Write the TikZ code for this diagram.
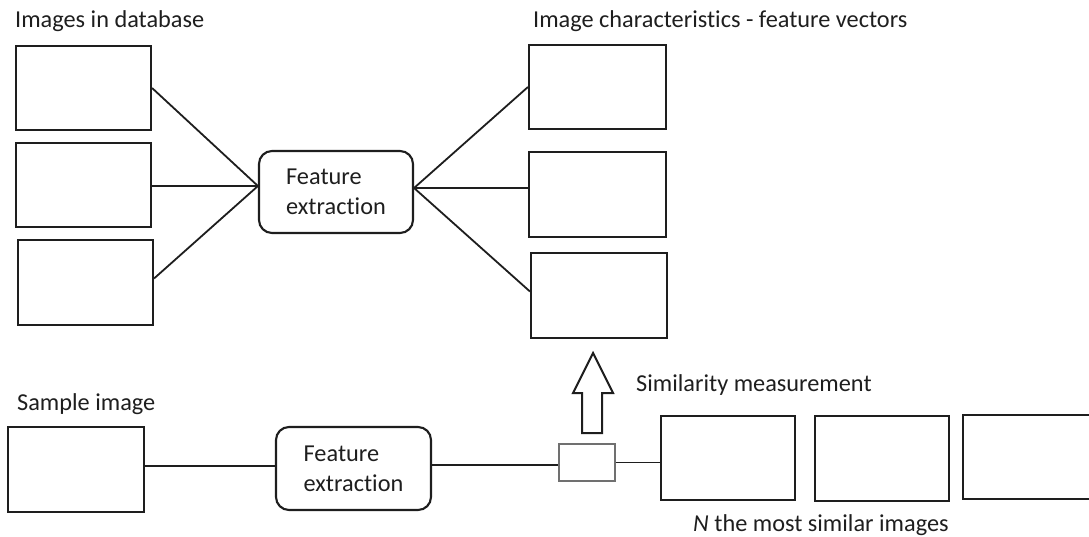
\documentclass[tikz,border=0pt]{standalone}
\usepackage{fontspec}
\setmainfont{Carlito}[Ligatures=NoCommon]
\usetikzlibrary{calc}
\definecolor{ink}{HTML}{1E1E1E}
\definecolor{thin}{HTML}{707070}
\begin{document}
\begin{tikzpicture}[x=1pt,y=-1pt,
  imgbox/.style={draw=ink, line width=2.1pt, minimum width=135pt, minimum height=84pt, inner sep=0pt},
  procbox/.style={draw=ink, line width=2.1pt, rounded corners=13pt, align=left,
    minimum width=154pt, minimum height=82pt, inner sep=0pt, text=ink,
    font=\fontsize{24.3}{30}\selectfont},
  link/.style={draw=ink, line width=1.8pt},
  txt/.style={anchor=base west, inner sep=0pt, text=ink, font=\fontsize{24.3}{30}\selectfont}]

\useasboundingbox (0,0) rectangle (1089,537);
\clip (0,0) rectangle (1089,537);

% database images
\node[imgbox] (db1) at (83.5,88) {};
\node[imgbox] (db2) at (83.5,185) {};
\node[imgbox, minimum height=85pt] (db3) at (85.5,282.5) {};

% feature extraction for the database
\node[procbox] (fe1) at (336,192) {Feature\\extraction};

% feature vectors
\node[imgbox, minimum width=137pt] (fv1) at (597.5,87) {};
\node[imgbox, minimum width=137pt, minimum height=85pt] (fv2) at (597.5,194.5) {};
\node[imgbox, minimum width=136pt, minimum height=85pt] (fv3) at (599,295.5) {};

\coordinate (inL) at ([yshift=6pt]fe1.west);
\coordinate (outR) at ([yshift=4pt]fe1.east);
\draw[link] (db1.east) -- (inL);
\draw[link] (inL -| db2.east) -- (inL);
\draw[link] ([yshift=4pt]db3.east) -- (inL);
\draw[link] (outR) -- (fv1.west);
\draw[link] (outR) -- (outR -| fv2.west);
\draw[link] (outR) -- ([yshift=4pt]fv3.west);

% query path
\node[imgbox, minimum width=136pt, minimum height=85pt] (sample) at (76,469.5) {};
\node[procbox, minimum width=155pt, minimum height=83pt] (fe2) at (353.5,468.5) {Feature\\extraction};
\node[draw=thin, line width=1.3pt, minimum width=56pt, minimum height=37pt, inner sep=0pt] (sim) at (587,462.5) {};

\node[imgbox, minimum width=134pt] (res1) at (728,458) {};
\node[imgbox, minimum width=134pt, minimum height=85pt] (res2) at (882,458.5) {};
\node[imgbox, minimum width=134pt] (res3) at (1030,457) {};

\draw[link] ([yshift=3.5pt]sample.east) -- ([yshift=3.5pt]sample.east -| fe2.west);
\draw[link] ([yshift=3.5pt]fe2.east) -- ([yshift=3.5pt]fe2.east -| sim.west);
\draw[link] (sim.east) -- (sim.east -| res1.west);

% hollow arrow pointing up to the feature vectors
\coordinate (tip) at (593,353);
\draw[draw=ink, line width=2pt, line join=miter, fill=white]
  (tip) -- ++(20,40) -- ++(-11,0) -- ++(0,40) -- ++(-20,0) -- ++(0,-40) -- ++(-9,0) -- cycle;

% captions
\node[txt] (cap1) at (15,27.5) {Images in database};
\node[txt] (cap2) at (533,28) {Image characteristics - feature vectors};
\node[txt] (cap3) at (17,410) {Sample image};
\node[txt] (cap4) at (636,391) {Similarity measurement};
\node[txt] (cap5) at (693,531) {\textit{N} the most similar images};
\end{tikzpicture}
\end{document}
